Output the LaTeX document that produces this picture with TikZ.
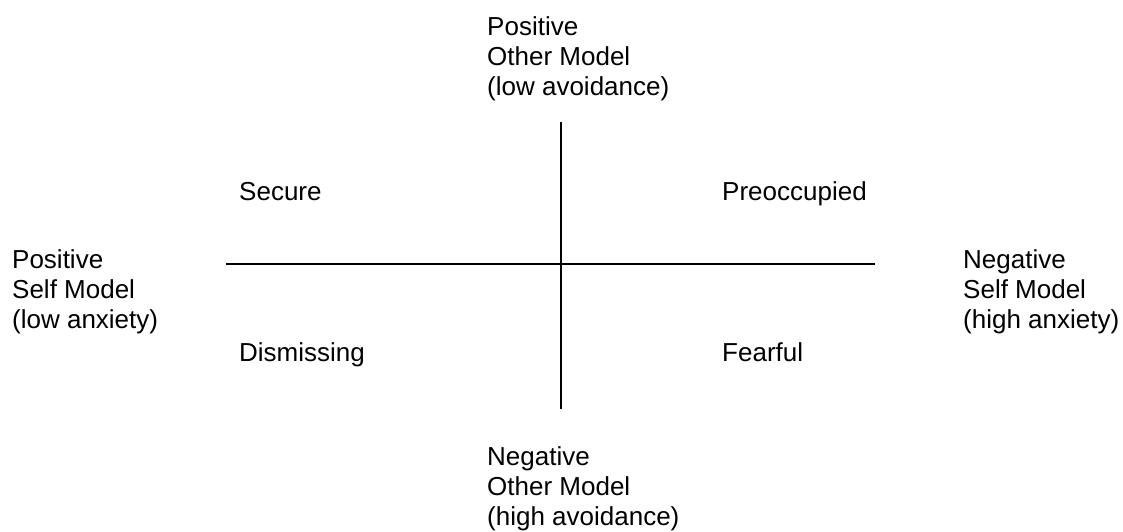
\documentclass[tikz,border=0pt]{standalone}
\usepackage{fontspec}
\setmainfont{Liberation Sans}
\begin{document}
\begin{tikzpicture}[x=1pt,y=-1pt,
  axis/.style={line width=2pt,black},
  lbl/.style={anchor=base west,inner sep=0pt,align=left,
    font=\fontsize{26}{30}\selectfont}]
\useasboundingbox (0,0) rectangle (1123,531);
% axes
\coordinate (hl) at (226,264);
\coordinate (hr) at (875,264);
\coordinate (vt) at (561,122);
\coordinate (vb) at (561,409);
\draw[axis] (hl) -- (hr);
\draw[axis] (vt) -- (vb);
% axis end labels (anchored at the baseline of the last line)
\node[lbl] (top) at (487,95.7) {Positive\\Other Model\\(low avoidance)};
\node[lbl] (bottom) at (487,525) {Negative\\Other Model\\(high avoidance)};
\node[lbl] (left) at (12,328.5) {Positive\\Self Model\\(low anxiety)};
\node[lbl] (right) at (963,328.5) {Negative\\Self Model\\(high anxiety)};
% quadrant labels
\node[lbl] (secure) at (239,200.7) {Secure};
\node[lbl] (preocc) at (722,200.7) {Preoccupied};
\node[lbl] (dismiss) at (239,361.7) {Dismissing};
\node[lbl] (fearful) at (722,361.7) {Fearful};
\end{tikzpicture}
\end{document}
